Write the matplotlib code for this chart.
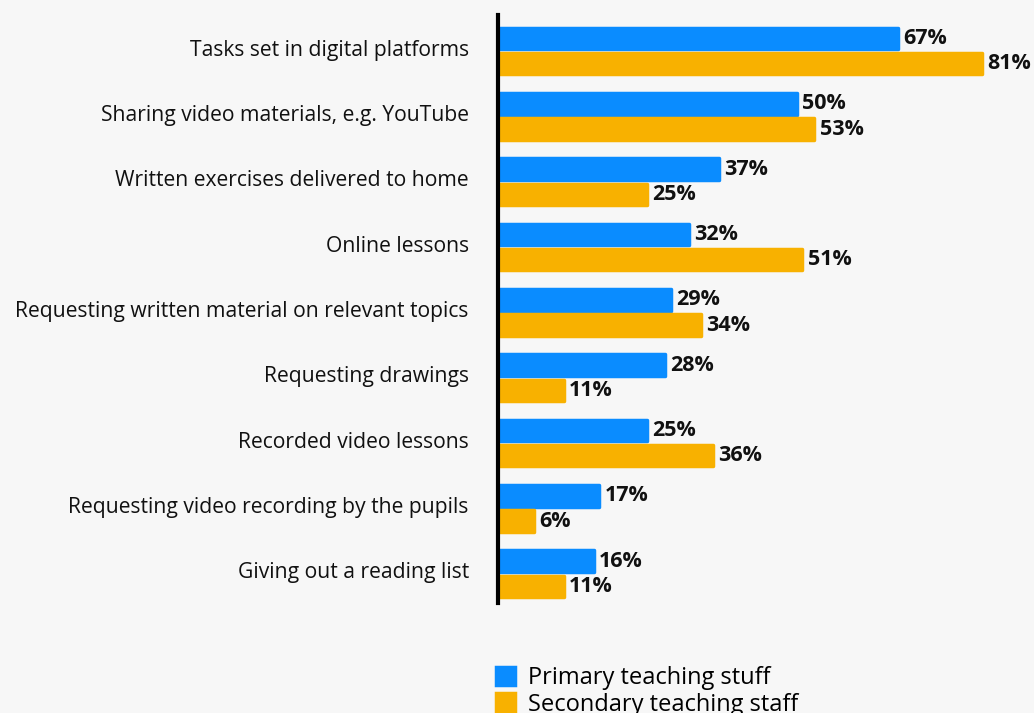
import matplotlib.pyplot as plt
import numpy as np

categories = [
    "Tasks set in digital platforms",
    "Sharing video materials, e.g. YouTube",
    "Written exercises delivered to home",
    "Online lessons",
    "Requesting written material on relevant topics",
    "Requesting drawings",
    "Recorded video lessons",
    "Requesting video recording by the pupils",
    "Giving out a reading list",
]
primary = [67, 50, 37, 32, 29, 28, 25, 17, 16]
secondary = [81, 53, 25, 51, 34, 11, 36, 6, 11]
series_names = ["Primary teaching stuff", "Secondary teaching staff"]

blue = "#0A8CFF"
orange = "#F8B100"
bg = "#F7F7F7"

plt.rcParams['font.family'] = ['Open Sans', 'DejaVu Sans']

fig = plt.figure(figsize=(10.34, 7.13), dpi=100, facecolor=bg)
W, H = 1034, 713
ax = fig.add_axes([498 / W, 1 - 603 / H, (1034 - 498) / W, (603 - 15) / H])
ax.set_facecolor(bg)

y = np.arange(len(categories))
h = 0.33
b1 = ax.barh(y - 0.14, primary, height=h, color=blue, edgecolor=blue,
             linewidth=2.5, joinstyle='round', label=series_names[0])
b2 = ax.barh(y + 0.245, secondary, height=h, color=orange, edgecolor=orange,
             linewidth=2.5, joinstyle='round', label=series_names[1])

for bars, vals in ((b1, primary), (b2, secondary)):
    for bar, v in zip(bars, vals):
        ax.text(v + 0.9, bar.get_y() + bar.get_height() / 2, f"{v}%",
                va='center', ha='left', fontsize=15.5, fontweight='bold',
                color='#111111')

ax.set_xlim(0, (1034 - 498) / 5.97)
ax.set_ylim(len(categories) - 0.5, -0.5)
ax.set_yticks(y)
ax.set_yticklabels(categories, fontsize=15.2, color='#111111')
ax.tick_params(axis='y', length=0, pad=21)
ax.set_xticks([])
for s in ('top', 'right', 'bottom'):
    ax.spines[s].set_visible(False)
ax.spines['left'].set_linewidth(3)
ax.spines['left'].set_color('black')

fig.legend(handles=[b1, b2], loc='upper left',
           bbox_to_anchor=(484 / W, 1 - 654 / H), frameon=False,
           fontsize=17, handlelength=0.8, handleheight=0.8,
           handletextpad=0.55, labelspacing=0.12, borderpad=0)

fig.savefig("out.png", dpi=100, facecolor=bg)
